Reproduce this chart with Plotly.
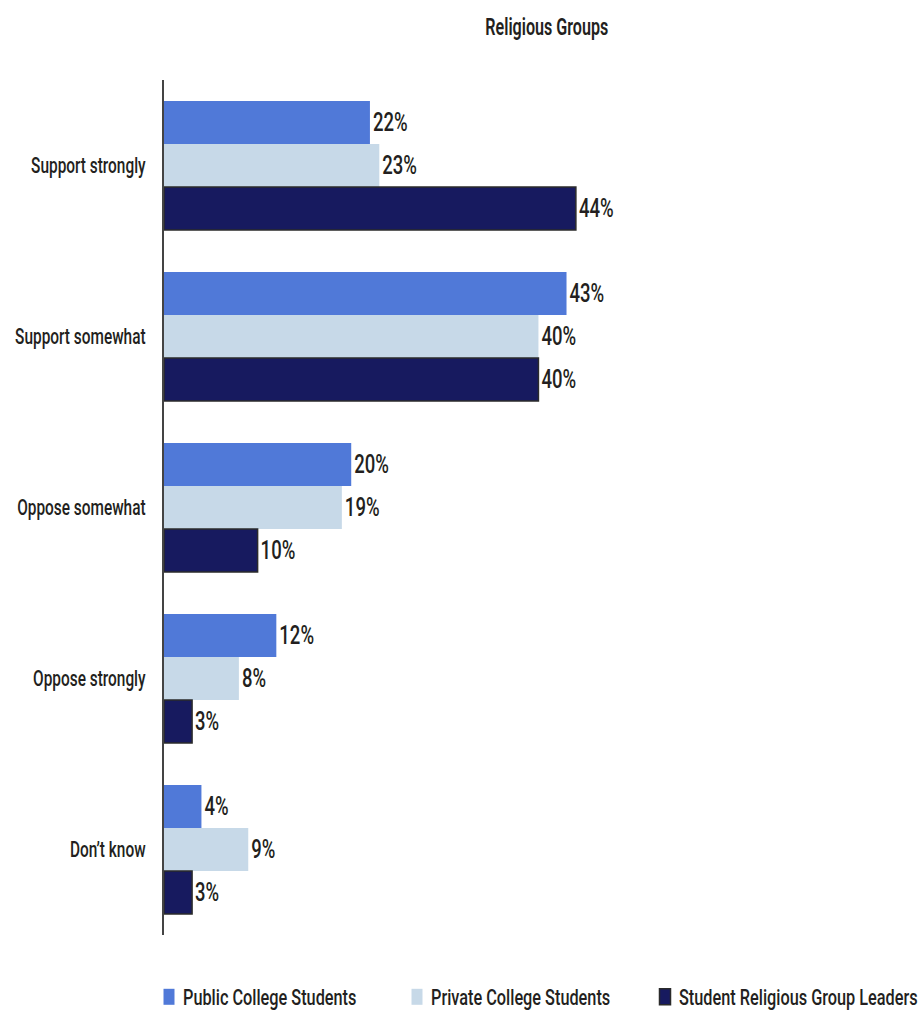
import plotly.graph_objects as go

categories = ["Support strongly", "Support somewhat", "Oppose somewhat", "Oppose strongly", "Don\u2019t know"]
public_students = [22, 43, 20, 12, 4]
private_students = [23, 40, 19, 8, 9]
group_leaders = [44, 40, 10, 3, 3]

series = [
    ("Public College Students", public_students, "#5079D8", None),
    ("Private College Students", private_students, "#C7D9E8", None),
    ("Student Religious Group Leaders", group_leaders, "#171A5F", "#2B2B2B"),
]

FONT = "Roboto, sans-serif"
INK = "#231F20"

fig = go.Figure()
for name, vals, color, edge in series:
    fig.add_trace(go.Bar(
        name=name,
        y=categories,
        x=vals,
        orientation="h",
        marker=dict(color=color,
                    line=dict(color=edge or color, width=1.5 if edge else 0)),
        text=[f"{v}%" for v in vals],
        textposition="outside",
        textfont=dict(family=FONT, size=25, color=INK, weight=500),
        cliponaxis=False,
    ))

fig.update_layout(
    width=921, height=1011,
    margin=dict(l=164, r=10, t=80, b=76, autoexpand=False),
    barmode="group",
    bargap=0.245,
    bargroupgap=0,
    plot_bgcolor="white",
    paper_bgcolor="white",
    font=dict(family=FONT, size=22, color=INK, weight=500),
    showlegend=True,
    legend=dict(orientation="h", x=149 / 921, xref="container", xanchor="left",
                y=(1011 - 997) / 1011, yref="container", yanchor="middle",
                entrywidth=203, font=dict(family=FONT, size=22, color=INK, weight=500),
                traceorder="normal"),
)
fig.add_annotation(text="Religious Groups", xref="paper", yref="paper",
                   x=(547 - 164) / (921 - 164 - 10), y=1 + (80 - 28) / (1011 - 80 - 76),
                   xanchor="center", yanchor="middle", showarrow=False,
                   font=dict(family=FONT, size=23, color=INK, weight=600))

fig.update_xaxes(range=[0, 79.8], visible=False)
fig.update_yaxes(autorange="reversed", showline=True, linecolor="#444", linewidth=2,
                 ticks="", ticklabelstandoff=12, automargin=False,
                 tickfont=dict(family=FONT, size=22, color=INK, weight=500),
                 showgrid=False, zeroline=False)

# The typeface is a narrow gothic; squeeze the glyphs horizontally in the SVG.
# Bar labels keep their left edge so they stay next to the bar ends.
# Legend: tall narrow swatches, text closer to the swatch, no clipping.
squeeze_js = """
var gd = document.getElementById('{plot_id}');
function factorFor(t) {
  if (t.classList.contains('legendtext')) return 0.74;
  if (t.classList.contains('bartext')) return 0.74;
  return 0.70;
}
function squeeze() {
  gd.querySelectorAll('svg text').forEach(function (t) {
    if (t.getAttribute('data-sq')) return;
    var w = t.getComputedTextLength();
    if (!(w > 0)) return;
    var isBar = t.classList.contains('bartext');
    var x0 = isBar ? t.getBBox().x : 0;
    t.setAttribute('textLength', (w * factorFor(t)).toFixed(1));
    t.setAttribute('lengthAdjust', 'spacingAndGlyphs');
    t.setAttribute('data-sq', '1');
    if (isBar) {
      var x1 = t.getBBox().x;
      var cx = parseFloat(t.getAttribute('x') || '0');
      t.setAttribute('x', (cx + (x0 - x1)).toFixed(2));
    }
    if (t.classList.contains('legendtext')) {
      var lx = parseFloat(t.getAttribute('x') || '0');
      t.setAttribute('x', (lx - 6).toFixed(2));
    }
  });
  gd.querySelectorAll('.legend [clip-path]').forEach(function (e) {
    e.removeAttribute('clip-path');
  });
  gd.querySelectorAll('.legend .legendpoints path').forEach(function (p) {
    p.setAttribute('d', 'M5.5,8H-5.5V-8H5.5Z');
  });
}
squeeze();
gd.on('plotly_afterplot', squeeze);
"""

fig.write_html("out.html", post_script=squeeze_js)
